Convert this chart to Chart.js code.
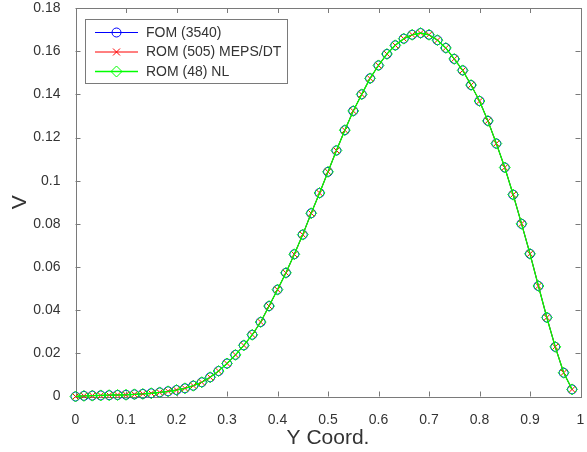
<!DOCTYPE html>
<html>
<head>
<meta charset="utf-8">
<script src="https://cdn.jsdelivr.net/npm/chart.js@4/dist/chart.umd.min.js"></script>
<style>
  html, body { margin: 0; padding: 0; background: #fff; }
  #wrap { width: 587px; height: 452px; position: relative; }
</style>
</head>
<body>
<div id="wrap"><canvas id="myChart"></canvas></div>
<script>
// y coordinate of the nodes along the line
let yCoord = [0, 0.0167, 0.0333, 0.05, 0.0667, 0.0833, 0.1, 0.1167, 0.1333, 0.15,
  0.1667, 0.1833, 0.2, 0.2167, 0.2333, 0.25, 0.2667, 0.2833, 0.3, 0.3167,
  0.3333, 0.35, 0.3667, 0.3833, 0.4, 0.4167, 0.4333, 0.45, 0.4667, 0.4833,
  0.5, 0.5167, 0.5333, 0.55, 0.5667, 0.5833, 0.6, 0.6167, 0.6333, 0.65,
  0.6667, 0.6833, 0.7, 0.7167, 0.7333, 0.75, 0.7667, 0.7833, 0.8, 0.8167,
  0.8333, 0.85, 0.8667, 0.8833, 0.9, 0.9167, 0.9333, 0.95, 0.9667, 0.9833]

// V (the three curves sit on top of each other)
let vFom = [0, 0.0003, 0.0004, 0.0005, 0.0006, 0.0007, 0.0008, 0.0010, 0.0012, 0.0015,
  0.0019, 0.0024, 0.0030, 0.0038, 0.0050, 0.0066, 0.0089, 0.0118, 0.0153, 0.0193,
  0.0237, 0.0286, 0.0345, 0.0419, 0.0495, 0.0573, 0.0659, 0.0750, 0.0849, 0.0943,
  0.1041, 0.1140, 0.1234, 0.1323, 0.1400, 0.1474, 0.1534, 0.1587, 0.1627, 0.1658,
  0.1676, 0.1684, 0.1676, 0.1651, 0.1615, 0.1564, 0.1511, 0.1443, 0.1369, 0.1277,
  0.1172, 0.1061, 0.0935, 0.0800, 0.0661, 0.0512, 0.0366, 0.0230, 0.0110, 0.0033]
let vRomMeps = vFom.slice()
let vRomNl = vFom.slice()

let nombres = ['FOM (3540)', 'ROM (505) MEPS/DT', 'ROM (48) NL']
let xTicks = [0, 0.1, 0.2, 0.3, 0.4, 0.5, 0.6, 0.7, 0.8, 0.9, 1]
let yTicks = [0, 0.02, 0.04, 0.06, 0.08, 0.1, 0.12, 0.14, 0.16, 0.18]

function puntos(vals) {
  return yCoord.map((x, i) => ({ x: x, y: vals[i] }))
}

function etiqueta(v) {
  return String(+(+v).toFixed(4))
}

const FONT = "'Liberation Sans', Arial, Helvetica, sans-serif"
const AXIS_COL = '#7a7a7a'
const TXT_COL = '#333333'

// marker drawing used by the legend
function marca(ctx, tipo, x, y, color) {
  ctx.save()
  ctx.strokeStyle = color
  ctx.lineWidth = 1
  ctx.beginPath()
  if (tipo == 'circle') {
    ctx.arc(x, y, 4.5, 0, Math.PI * 2)
  } else if (tipo == 'cross') {
    ctx.moveTo(x - 3.5, y - 3.5); ctx.lineTo(x + 3.5, y + 3.5)
    ctx.moveTo(x + 3.5, y - 3.5); ctx.lineTo(x - 3.5, y + 3.5)
  } else {
    ctx.moveTo(x, y - 5.5); ctx.lineTo(x + 5.5, y); ctx.lineTo(x, y + 5.5); ctx.lineTo(x - 5.5, y); ctx.closePath()
  }
  ctx.stroke()
  ctx.restore()
}

// box and inward tick marks, matlab style
const caja = {
  id: 'caja',
  beforeDatasetsDraw(chart) {
    const ctx = chart.ctx
    const a = chart.chartArea
    const sx = chart.scales.x
    const sy = chart.scales.y
    ctx.save()
    ctx.strokeStyle = AXIS_COL
    ctx.lineWidth = 1
    ctx.strokeRect(Math.round(a.left) + 0.5, Math.round(a.top) + 0.5,
      Math.round(a.right - a.left), Math.round(a.bottom - a.top))
    ctx.beginPath()
    xTicks.forEach(v => {
      const px = Math.round(sx.getPixelForValue(v)) + 0.5
      ctx.moveTo(px, a.bottom); ctx.lineTo(px, a.bottom - 5)
      ctx.moveTo(px, a.top); ctx.lineTo(px, a.top + 5)
    })
    yTicks.forEach(v => {
      const py = Math.round(sy.getPixelForValue(v)) + 0.5
      ctx.moveTo(a.left, py); ctx.lineTo(a.left + 5, py)
      ctx.moveTo(a.right, py); ctx.lineTo(a.right - 5, py)
    })
    ctx.stroke()
    ctx.restore()
  },
  afterDraw(chart) {
    const ctx = chart.ctx
    const colores = ['#0000ff', '#ff0000', '#00ff00']
    const tipos = ['circle', 'cross', 'diamond']
    ctx.save()
    ctx.fillStyle = '#ffffff'
    ctx.fillRect(85.5, 19.5, 202, 64)
    ctx.strokeStyle = AXIS_COL
    ctx.lineWidth = 1
    ctx.strokeRect(85.5, 19.5, 202, 64)
    ctx.font = '14px ' + FONT
    ctx.textBaseline = 'middle'
    ctx.textAlign = 'left'
    for (let i = 0; i < nombres.length; i++) {
      const yy = 32.5 + i * 19.5
      ctx.strokeStyle = colores[i]
      ctx.lineWidth = i == 2 ? 1.3 : 1
      ctx.beginPath()
      ctx.moveTo(95, yy); ctx.lineTo(138, yy)
      ctx.stroke()
      marca(ctx, tipos[i], 116.5, yy, colores[i])
      ctx.fillStyle = TXT_COL
      ctx.fillText(nombres[i], 146, yy + 0.5)
    }
    ctx.restore()
  }
}

var data = {
  datasets: [
    {
      label: nombres[0],
      data: puntos(vFom),
      showLine: true,
      borderColor: '#0000ff',
      borderWidth: 1,
      backgroundColor: 'rgba(0,0,0,0)',
      pointStyle: 'circle',
      pointRadius: 4.5,
      pointBorderWidth: 1,
      pointBorderColor: '#0000ff',
      clip: false,
      order: 3
    },
    {
      label: nombres[1],
      data: puntos(vRomMeps),
      showLine: true,
      borderColor: '#ff0000',
      borderWidth: 1,
      backgroundColor: 'rgba(0,0,0,0)',
      pointStyle: 'crossRot',
      pointRadius: 4.5,
      pointBorderWidth: 1,
      pointBorderColor: '#ff0000',
      clip: false,
      order: 2
    },
    {
      label: nombres[2],
      data: puntos(vRomNl),
      showLine: true,
      borderColor: '#00ff00',
      borderWidth: 1.3,
      backgroundColor: 'rgba(0,0,0,0)',
      pointStyle: 'rectRot',
      pointRadius: 5.5,
      pointBorderWidth: 1,
      pointBorderColor: '#00ff00',
      clip: false,
      order: 1
    }
  ]
}

const config = {
  type: 'scatter',
  data: data,
  plugins: [caja],
  options: {
    responsive: false,
    animation: false,
    layout: { padding: { top: 8, right: 6, left: 0, bottom: 0 } },
    plugins: {
      legend: { display: false },
      tooltip: { enabled: false }
    },
    scales: {
      x: {
        type: 'linear',
        min: 0,
        max: 1,
        grid: { display: false },
        border: { display: false },
        afterBuildTicks: s => { s.ticks = xTicks.map(v => ({ value: v })) },
        afterFit: s => { s.height = 55.5; s.paddingLeft = 0; s.paddingRight = 0 },
        ticks: {
          padding: 7,
          maxRotation: 0,
          autoSkip: false,
          color: TXT_COL,
          callback: etiqueta,
          font: { family: FONT, size: 14 }
        },
        title: {
          display: true,
          text: 'Y Coord.',
          color: TXT_COL,
          padding: { top: 0, bottom: 1 },
          font: { family: FONT, size: 21 }
        }
      },
      y: {
        type: 'linear',
        min: 0,
        max: 0.18,
        grid: { display: false },
        border: { display: false },
        afterBuildTicks: s => { s.ticks = yTicks.map(v => ({ value: v })) },
        afterFit: s => { s.width = 75.5; s.paddingTop = 0; s.paddingBottom = 0 },
        ticks: {
          padding: 7,
          autoSkip: false,
          color: TXT_COL,
          callback: etiqueta,
          font: { family: FONT, size: 14 }
        },
        title: {
          display: true,
          text: 'V',
          color: TXT_COL,
          padding: { top: 8, bottom: 0 },
          font: { family: FONT, size: 21 }
        }
      }
    }
  }
}

window.onload = function () {
  const cv = document.getElementById('myChart')
  cv.width = 587
  cv.height = 452
  var myChart = new Chart(cv, config)
}
</script>
</body>
</html>
